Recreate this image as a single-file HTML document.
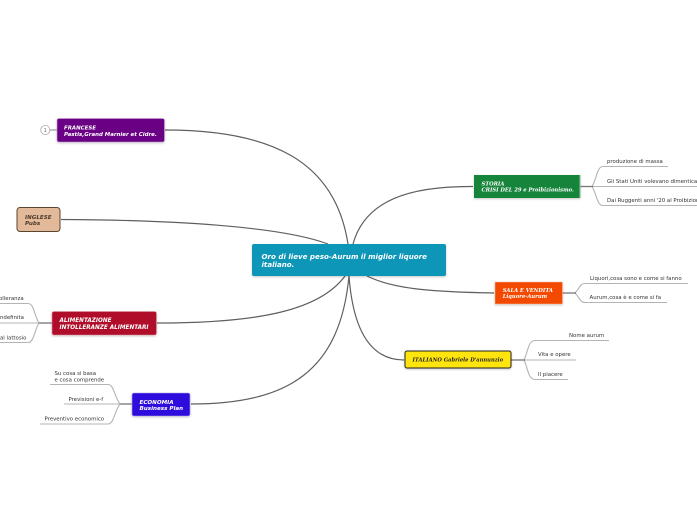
<!DOCTYPE html>
<html><head><meta charset="utf-8">
<style>
html,body{margin:0;padding:0;background:#fff;width:697px;height:520px;overflow:hidden}
svg{display:block}
.s{font-family:"DejaVu Sans",sans-serif;font-size:5.4px;fill:#333}
.b{font-family:"DejaVu Sans",sans-serif;font-size:5.6px;font-weight:bold;font-style:italic;fill:#fff}
.f{font-family:"DejaVu Serif",serif;font-size:5.2px;font-weight:bold;font-style:italic;fill:#fff}
.l{fill:none;stroke:#5f5f5f;stroke-width:1.2}
.g{fill:none;stroke:#b4b4b4;stroke-width:1.1}
.d{fill:none;stroke:#777;stroke-width:1.3}
</style></head><body>
<svg width="697" height="520" viewBox="0 0 697 520" xmlns="http://www.w3.org/2000/svg">
<defs><filter id="sh" x="-10%" y="-20%" width="120%" height="140%"><feDropShadow dx="0" dy="1" stdDeviation="1" flood-color="#000" flood-opacity=".22"/></filter></defs>

<!-- main connectors -->
<path class="l" d="M165 130C270 130 335 160 348 244"/>
<path class="l" d="M61 219.500C170 220 280 226 328 244"/>
<path class="l" d="M157 323C260 323 320 310 345 276"/>
<path class="l" d="M191 404C290 404 340 370 349 276"/>
<path class="l" d="M473 186.500C410 186 365 200 353 244"/>
<path class="l" d="M494 293C440 292 395 290 367 276"/>
<path class="l" d="M404 360C370 360 353 330 349 276"/>

<!-- FRANCESE marker -->
<path d="M50 130H57" stroke="#999" stroke-width="1.200"/>
<circle cx="45.300" cy="130" r="4.600" fill="#fff" stroke="#aaa" stroke-width=".8"/>
<text x="45.300" y="132" text-anchor="middle" font-family="DejaVu Sans,sans-serif" font-size="5.400" fill="#777">1</text>

<!-- left sub branches: ALIMENTAZIONE -->
<path class="g" d="M0 303.500H28C34 303.500 34 315 39 323"/>
<path class="g" d="M0 323H39"/>
<path class="g" d="M0 342.500H28C34 342.500 34 331 39 323"/>
<path class="d" d="M39 323H52"/>
<text class="s" x="-1" y="300">olleranza</text>
<text class="s" x="0" y="319">ndefinita</text>
<text class="s" x="0" y="339.500">al lattosio</text>

<!-- ECONOMIA sub branches -->
<path class="g" d="M50 384.500H108C114 384.500 114 396 120 404"/>
<path class="g" d="M64 404H120"/>
<path class="g" d="M40 424H108C114 424 114 412 120 404"/>
<path class="d" d="M120 404H132"/>
<text class="s" x="54.500" y="375">Su cosa si basa</text>
<text class="s" x="54.500" y="381.300">e cosa comprende</text>
<text class="s" x="68.500" y="401">Previsioni e-f</text>
<text class="s" x="44.500" y="420.300">Preventivo economico</text>

<!-- STORIA sub branches -->
<path class="g" d="M668 166.500H603C597 166.500 597 178 592 186.500"/>
<path class="g" d="M697 186.500H592"/>
<path class="g" d="M697 205.500H603C597 205.500 597 195 592 186.500"/>
<path class="d" d="M580 186.500H593"/>
<text class="s" x="607" y="163">produzione di massa</text>
<text class="s" x="607" y="183">Gli Stati Uniti volevano dimenticare</text>
<text class="s" x="607" y="202">Dai Ruggenti anni '20 al Proibizionismo</text>

<!-- SALA sub branches -->
<path class="g" d="M688 283.500H585C580 283.500 580 288 575 293"/>
<path class="g" d="M667 302.500H585C580 302.500 580 298 575 293"/>
<path class="d" d="M562 293H576"/>
<text class="s" x="590" y="280">Liquori,cosa sono e come si fanno</text>
<text class="s" x="589.500" y="299">Aurum,cosa è e come si fa</text>

<!-- ITALIANO sub branches -->
<path class="g" d="M609 340.500H535C528 340.500 528 352 524 360"/>
<path class="g" d="M576 360H524"/>
<path class="g" d="M568 379.500H535C528 379.500 528 368 524 360"/>
<path class="d" d="M511 360H525"/>
<text class="s" x="569" y="337">Nome aurum</text>
<text class="s" x="538" y="356">Vita e opere</text>
<text class="s" x="538" y="376">Il piacere</text>

<!-- nodes -->
<rect x="57" y="118.500" width="107.500" height="23.500" rx="2" fill="#6a0584" stroke="#c9a6d2" stroke-width=".6" filter="url(#sh)"/>
<text class="b" x="64" y="129.300" style="font-size:5.450px">FRANCESE</text>
<text class="b" x="64" y="136" style="font-size:5.450px">Pastis,Grand Marnier et Cidre.</text>

<rect x="17" y="207.500" width="43" height="24" rx="3" fill="#e2b999" stroke="#5a4530" stroke-width="1"/>
<text class="b" x="25" y="219" style="fill:#4e3b2a">INGLESE</text>
<text class="b" x="25" y="225" style="fill:#4e3b2a">Pubs</text>

<rect x="52" y="311.500" width="104.500" height="23.500" rx="2" fill="#b00c2a" stroke="#dc9aa6" stroke-width=".6" filter="url(#sh)"/>
<text class="b" x="59.500" y="322" style="font-size:5.700px">ALIMENTAZIONE</text>
<text class="b" x="59.500" y="329" style="font-size:5.700px">INTOLLERANZE ALIMENTARI</text>

<rect x="132" y="393" width="58" height="23" rx="2" fill="#2f0bdc" stroke="#b0a4ee" stroke-width=".6" filter="url(#sh)"/>
<text class="b" x="139.500" y="404">ECONOMIA</text>
<text class="b" x="139.500" y="410">Business Plan</text>

<rect x="252" y="244" width="194" height="32" rx="2" fill="#0f96b8" filter="url(#sh)"/>
<text class="b" x="261.500" y="259" style="font-size:7.100px">Oro di lieve peso-Aurum il miglior liquore</text>
<text class="b" x="261.500" y="267" style="font-size:7.100px">italiano.</text>

<rect x="474" y="175" width="106.500" height="23" fill="#17853a" filter="url(#sh)"/>
<rect x="579.500" y="175" width="1" height="23" fill="#8cc79d"/>
<text class="f" x="481.500" y="185.300">STORIA</text>
<text class="f" x="481.500" y="191.500">CRISI DEL 29 e Proibizionismo.</text>

<rect x="495" y="282" width="67.500" height="22" fill="#f34a05" stroke="#f8c0a8" stroke-width=".5" filter="url(#sh)"/>
<text class="f" x="502.700" y="292">SALA E VENDITA</text>
<text class="f" x="502.700" y="298">Liquore-Aurum</text>

<rect x="405" y="351" width="106" height="17" rx="2" fill="#ffe40e" stroke="#222" stroke-width="1" filter="url(#sh)"/>
<text class="f" x="412.500" y="361.500" style="fill:#222">ITALIANO Gabriele D'annunzio</text>
</svg>
</body></html>
